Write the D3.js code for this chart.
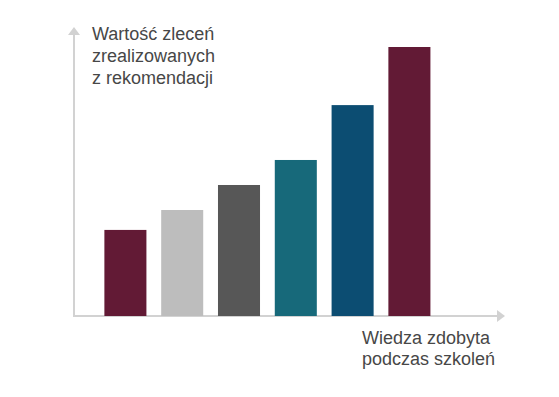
<!DOCTYPE html>
<html lang="pl">
<head>
<meta charset="utf-8">
<title>Wartość zleceń</title>
<script src="https://d3js.org/d3.v7.min.js"></script>
<style>
  body { margin: 0; background: #fff; }
  text { font-family: "Liberation Sans", Arial, sans-serif; }
</style>
</head>
<body>
<script>
var w = 559, h = 397;

// dane (jednostki umowne)
var categories = ["k1", "k2", "k3", "k4", "k5", "k6"];
var values = [32, 39.4, 48.7, 58, 78.4, 100];
var colors = ["#621a35", "#bdbdbd", "#575757", "#17697a", "#0c4d72", "#621a35"];
var yLabel = ["Wartość zleceń", "zrealizowanych", "z rekomendacji"];
var xLabel = ["Wiedza zdobyta", "podczas szkoleń"];

var x0 = 74, y0 = 316;

var xScale = d3.scaleBand()
    .domain(categories)
    .range([97, 437.8])
    .paddingInner(0.26)
    .paddingOuter(0.13);

var yScale = d3.scaleLinear()
    .domain([0, 100])
    .range([y0, 47]);

var svg = d3.select("body").append("svg")
    .attr("width", w)
    .attr("height", h);

// osie ze strzałkami
var axisColor = "#d2d2d2";
svg.append("line")
    .attr("x1", x0).attr("y1", y0 + 1)
    .attr("x2", x0).attr("y2", 34)
    .attr("stroke", axisColor).attr("stroke-width", 2);
svg.append("path")
    .attr("d", "M" + (x0 - 6) + ",35 L" + x0 + ",27 L" + (x0 + 6) + ",35 Z")
    .attr("fill", axisColor);

svg.append("line")
    .attr("x1", x0 - 1).attr("y1", y0)
    .attr("x2", 498).attr("y2", y0)
    .attr("stroke", axisColor).attr("stroke-width", 2);
svg.append("path")
    .attr("d", "M497," + (y0 - 6) + " L505," + y0 + " L497," + (y0 + 6) + " Z")
    .attr("fill", axisColor);

// słupki
svg.selectAll("rect.bar")
    .data(values)
    .enter()
    .append("rect")
    .attr("class", "bar")
    .attr("x", function(d, i) { return xScale(categories[i]); })
    .attr("y", function(d) { return yScale(d); })
    .attr("width", xScale.bandwidth())
    .attr("height", function(d) { return y0 - yScale(d); })
    .attr("fill", function(d, i) { return colors[i]; });

// opisy osi
svg.append("text")
    .attr("x", 92).attr("y", 40)
    .attr("font-size", 18).attr("fill", "#474747")
    .selectAll("tspan")
    .data(yLabel)
    .enter()
    .append("tspan")
    .attr("x", 92)
    .attr("dy", function(d, i) { return i === 0 ? 0 : 22; })
    .text(function(d) { return d; });

svg.append("text")
    .attr("x", 362).attr("y", 344)
    .attr("font-size", 18).attr("fill", "#474747")
    .selectAll("tspan")
    .data(xLabel)
    .enter()
    .append("tspan")
    .attr("x", 362)
    .attr("dy", function(d, i) { return i === 0 ? 0 : 21; })
    .text(function(d) { return d; });
</script>
</body>
</html>
